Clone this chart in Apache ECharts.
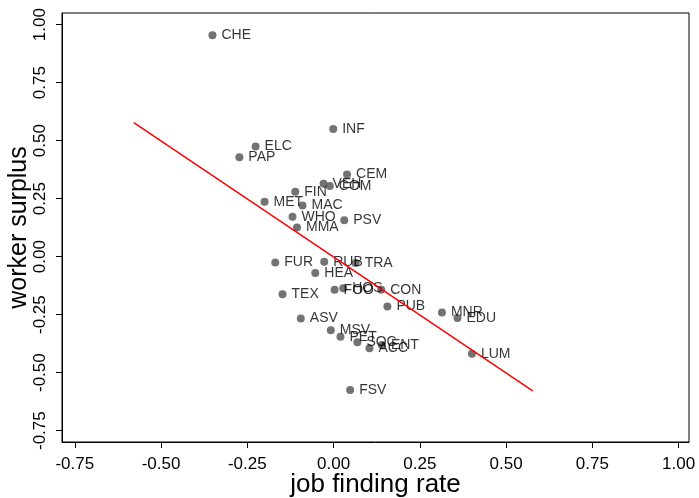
<!DOCTYPE html>
<html>
<head>
<meta charset="utf-8">
<script src="https://cdn.jsdelivr.net/npm/echarts@6/dist/echarts.min.js"></script>
<style>
  html, body { margin: 0; padding: 0; background: #fff; }
  #chart { width: 699px; height: 498px; }
</style>
</head>
<body>
<div id="chart"></div>
<script>
// Industry codes with their job finding rate (x) and worker surplus (y)
var industries = ['CHE', 'INF', 'ELC', 'PAP', 'CEM', 'VEH', 'COM', 'FIN', 'MET', 'MAC',
  'WHO', 'PSV', 'MMA', 'FUR', 'RUB', 'TRA', 'HEA', 'TEX', 'FOO', 'HOS', 'CON', 'PUB',
  'ASV', 'MSV', 'PET', 'SOC', 'ENT', 'ACC', 'FSV', 'MNR', 'EDU', 'LUM'];
var jobFinding = [-0.351, -0.001, -0.226, -0.273, 0.039, -0.029, -0.011, -0.111, -0.200, -0.090,
  -0.119, 0.031, -0.106, -0.169, -0.027, 0.064, -0.053, -0.148, 0.003, 0.028, 0.138, 0.156,
  -0.095, -0.008, 0.020, 0.069, 0.140, 0.104, 0.048, 0.314, 0.359, 0.401];
var workerSurplus = [0.954, 0.550, 0.475, 0.428, 0.354, 0.314, 0.304, 0.280, 0.236, 0.220,
  0.172, 0.157, 0.126, -0.025, -0.022, -0.028, -0.071, -0.162, -0.143, -0.136, -0.143, -0.215,
  -0.267, -0.317, -0.345, -0.369, -0.381, -0.395, -0.575, -0.241, -0.265, -0.419];

// Fitted regression line end points
var fitX = [-0.579, 0.577];
var fitY = [0.577, -0.579];

// Axis tick values
var xTicks = [-0.75, -0.5, -0.25, 0, 0.25, 0.5, 0.75, 1.0];
var yTicks = [-0.75, -0.5, -0.25, 0, 0.25, 0.5, 0.75, 1.0];

var points = industries.map(function (n, i) { return [jobFinding[i], workerSurplus[i], n]; });
var fitLine = fitX.map(function (x, i) { return [x, fitY[i]]; });

var fmt = function (v) { return v.toFixed(2); };
var FONT = 'Liberation Sans, Arial, sans-serif';

var chart = echarts.init(document.getElementById('chart'), null, { renderer: 'canvas' });
chart.setOption({
  animation: false,
  backgroundColor: '#ffffff',
  grid: {
    left: 62, top: 13, right: 10, bottom: 56,
    outerBoundsMode: 'none', containLabel: false,
    show: true, borderColor: '#000', borderWidth: 1, backgroundColor: 'transparent'
  },
  xAxis: {
    type: 'value', min: -0.787, max: 1.03,
    name: 'job finding rate', nameLocation: 'middle', nameGap: 30, nameMoveOverlap: false,
    nameTextStyle: { fontFamily: FONT, fontSize: 26, color: '#000' },
    splitLine: { show: false },
    axisLine: { show: true, onZero: false, lineStyle: { color: '#000', width: 1 } },
    axisTick: { show: true, customValues: xTicks, length: 6, lineStyle: { color: '#000' } },
    axisLabel: { customValues: xTicks, formatter: fmt, margin: 14, fontFamily: FONT, fontSize: 17, color: '#000' }
  },
  yAxis: {
    type: 'value', min: -0.799, max: 1.05,
    name: 'worker surplus', nameLocation: 'middle', nameGap: 30, nameRotate: 90, nameMoveOverlap: false,
    nameTextStyle: { fontFamily: FONT, fontSize: 25, color: '#000' },
    splitLine: { show: false },
    axisLine: { show: true, onZero: false, lineStyle: { color: '#000', width: 1 } },
    axisTick: { show: true, customValues: yTicks, length: 6, lineStyle: { color: '#000' } },
    axisLabel: { customValues: yTicks, formatter: fmt, rotate: 90, margin: 13, fontFamily: FONT, fontSize: 17, color: '#000' }
  },
  series: [
    {
      type: 'scatter',
      data: points,
      symbol: 'circle',
      symbolSize: 8,
      itemStyle: { color: '#505050' },
      label: {
        show: true, position: 'right', distance: 5,
        formatter: function (p) { return p.data[2]; },
        fontFamily: FONT, fontSize: 14, color: '#000000'
      },
      labelLayout: { hideOverlap: false },
      z: 2
    },
    {
      type: 'line',
      data: fitLine,
      symbol: 'none',
      lineStyle: { color: '#ff0000', width: 1.5 },
      z: 5
    }
  ]
});
</script>
</body>
</html>
